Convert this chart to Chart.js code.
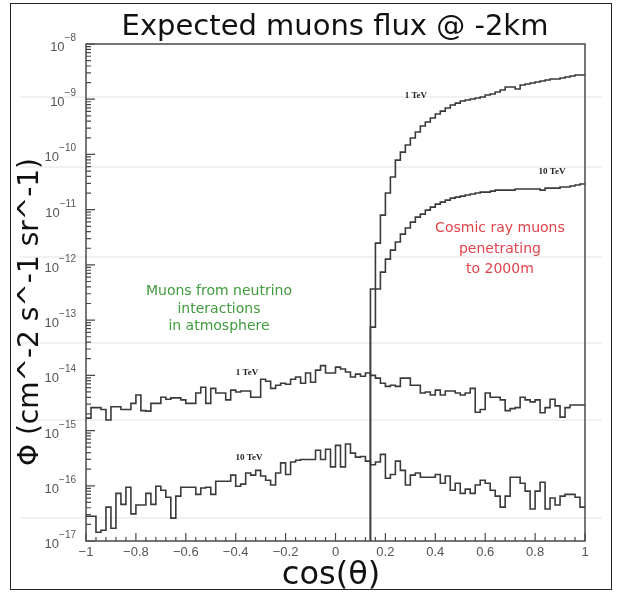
<!DOCTYPE html>
<html>
<head>
<meta charset="utf-8">
<script src="https://cdn.jsdelivr.net/npm/chart.js@4.4.1/dist/chart.umd.min.js"></script>
<style>
html, body { margin: 0; padding: 0; background: #fff; }
#wrap { position: relative; width: 621px; height: 594px; }
#frame { position: absolute; left: 10px; top: 3px; width: 600px; height: 585px; border: 1.5px solid #222; pointer-events: none; }
</style>
</head>
<body>
<div id="wrap">
  <canvas id="chart" width="621" height="594"></canvas>
  <div id="frame"></div>
</div>
<script>
// histogram binning (cos theta)
const binWidth = 0.02;
const nuStart = -1;
const cosmicStart = 0.14;

// muons from neutrino interactions in atmosphere, 100 bins from -1 to 1
const nu1TeV = [
  1.68e-15, 2.6e-15, 2.6e-15, 2.4e-15, 1.55e-15, 2.7e-15, 2.7e-15, 2.4e-15, 2.4e-15, 3.1e-15,
  4.4e-15, 2.3e-15, 2.25e-15, 3.1e-15, 3.1e-15, 4.0e-15, 3.7e-15, 3.9e-15, 3.9e-15, 3.6e-15,
  3.1e-15, 3.1e-15, 4.8e-15, 6.1e-15, 3.1e-15, 5.8e-15, 4.8e-15, 4.8e-15, 3.6e-15, 5.4e-15,
  5.0e-15, 5.2e-15, 5.2e-15, 4.0e-15, 4.0e-15, 8.5e-15, 7.8e-15, 5.8e-15, 6.6e-15, 7.2e-15,
  6.9e-15, 8.5e-15, 9.3e-15, 7.2e-15, 1.1e-14, 7.5e-15, 1.24e-14, 1.5e-14, 1.1e-14, 1.1e-14,
  1.41e-14, 1.3e-14, 1.15e-14, 9.3e-15, 1.05e-14, 9.6e-15, 1.1e-14, 1.0e-14, 8.9e-15, 7.2e-15,
  6.3e-15, 6.6e-15, 6.3e-15, 8.9e-15, 8.9e-15, 6.6e-15, 6.6e-15, 4.8e-15, 5.0e-15, 4.4e-15,
  5.4e-15, 4.4e-15, 5.2e-15, 5.2e-15, 4.8e-15, 4.4e-15, 4.8e-15, 5.8e-15, 2.15e-15, 2.4e-15,
  4.8e-15, 4.0e-15, 4.0e-15, 3.6e-15, 2.3e-15, 2.5e-15, 2.6e-15, 4.0e-15, 3.6e-15, 3.3e-15,
  3.6e-15, 2.1e-15, 2.6e-15, 3.7e-15, 2.8e-15, 1.75e-15, 2.6e-15, 2.9e-15, 2.9e-15, 2.9e-15
];
const nu10TeV = [
  2.8e-17, 2.8e-17, 1.44e-17, 1.57e-17, 4.1e-17, 1.7e-17, 7.3e-17, 4.6e-17, 9.4e-17, 3.1e-17,
  4.5e-17, 4.5e-17, 7.3e-17, 4.6e-17, 9.8e-17, 8.3e-17, 6.2e-17, 2.6e-17, 6.5e-17, 9.4e-17,
  9.4e-17, 9.4e-17, 7.0e-17, 9.1e-17, 9.4e-17, 7.0e-17, 1.21e-16, 1.21e-16, 1.21e-16, 1.56e-16,
  9.8e-17, 1.07e-16, 1.7e-16, 1.56e-16, 1.9e-16, 1.5e-16, 1.26e-16, 1.03e-16, 1.7e-16, 2.6e-16,
  1.6e-16, 2.7e-16, 2.9e-16, 3.0e-16, 3.0e-16, 3.0e-16, 4.4e-16, 3.0e-16, 4.6e-16, 2.2e-16,
  5.4e-16, 2.2e-16, 5.7e-16, 3.9e-16, 3.3e-16, 3.4e-16, 2.8e-16, 2.4e-16, 2.7e-16, 3.7e-16,
  1.37e-16, 1.6e-16, 2.8e-16, 1.9e-16, 1.03e-16, 1.56e-16, 1.7e-16, 1.43e-16, 1.43e-16, 1.43e-16,
  1.6e-16, 1.11e-16, 1.5e-16, 8.3e-17, 1.11e-16, 7.3e-17, 8.7e-17, 7.3e-17, 1.03e-16, 1.26e-16,
  1.11e-16, 8.3e-17, 6.5e-17, 4.1e-17, 6.5e-17, 1.43e-16, 1.43e-16, 1.11e-16, 8.0e-17, 3.8e-17,
  8.0e-17, 1.16e-16, 3.8e-17, 6.0e-17, 4.5e-17, 6.5e-17, 7.0e-17, 7.0e-17, 6.2e-17, 4.1e-17
];

// cosmic ray muons penetrating to 2000 m, 43 bins from 0.14 to 1
const cosmic1TeV = [
  3.65e-13, 2.48e-12, 7.98e-12, 2.0e-11, 3.9e-11, 7.9e-11, 1.1e-10, 1.48e-10, 1.98e-10, 2.55e-10,
  3.27e-10, 3.86e-10, 4.56e-10, 5.4e-10, 6.1e-10, 6.93e-10, 7.85e-10, 8.5e-10, 9.27e-10, 9.68e-10,
  1.01e-9, 1.05e-9, 1.1e-9, 1.19e-9, 1.24e-9, 1.35e-9, 1.47e-9, 1.66e-9, 1.66e-9, 1.53e-9,
  1.81e-9, 1.89e-9, 1.97e-9, 2.05e-9, 2.14e-9, 2.23e-9, 2.32e-9, 2.32e-9, 2.42e-9, 2.52e-9,
  2.63e-9, 2.74e-9, 2.74e-9
];
const cosmic10TeV = [
  7.46e-14, 3.65e-13, 7.4e-13, 1.27e-12, 1.85e-12, 2.59e-12, 3.6e-12, 4.65e-12, 5.96e-12, 7.34e-12,
  8.3e-12, 9.8e-12, 1.11e-11, 1.26e-11, 1.37e-11, 1.49e-11, 1.62e-11, 1.69e-11, 1.76e-11, 1.84e-11,
  1.92e-11, 2.0e-11, 2.08e-11, 2.08e-11, 2.17e-11, 2.26e-11, 2.26e-11, 2.26e-11, 2.26e-11, 2.36e-11,
  2.36e-11, 2.36e-11, 2.36e-11, 2.36e-11, 2.26e-11, 2.46e-11, 2.46e-11, 2.46e-11, 2.57e-11, 2.57e-11,
  2.68e-11, 2.79e-11, 2.91e-11
];

// axes
const xTickValues = [-1, -0.8, -0.6, -0.4, -0.2, 0, 0.2, 0.4, 0.6, 0.8, 1];
const xTickLabels = ['\u22121', '\u22120.8', '\u22120.6', '\u22120.4', '\u22120.2', '0', '0.2', '0.4', '0.6', '0.8', '1'];
const yTickValues = [1e-17, 1e-16, 1e-15, 1e-14, 1e-13, 1e-12, 1e-11, 1e-10, 1e-9, 1e-8];
const yTickExponents = ['\u221217', '\u221216', '\u221215', '\u221214', '\u221213', '\u221212', '\u221211', '\u221210', '\u22129', '\u22128'];

// text labels placed in data coordinates
const curveLabels = [
  { text: '1 TeV', x: 0.322, y: 1.14e-9 },
  { text: '10 TeV', x: 0.868, y: 4.8e-11 },
  { text: '1 TeV', x: -0.355, y: 1.14e-14 },
  { text: '10 TeV', x: -0.347, y: 3.2e-16 }
];
const cosmicNote = { lines: ['Cosmic ray muons', 'penetrating', 'to 2000m'], x: 0.659, y: 1.93e-12, color: '#e2434c' };
const nuNote = { lines: ['Muons from neutrino', 'interactions', 'in atmosphere'], x: -0.467, y: 1.58e-13, color: '#3f9b3c' };

const titleText = 'Expected muons flux @ -2km';
const yTitle = '\u03A6 (cm^-2 s^-1 sr^-1)';
const xTitle = 'cos(\u03B8)';

// faint lines of the slide behind the plot (canvas px)
const slideLines = [97, 167, 257, 343, 420, 518];

function histPoints(start, values, fromZero) {
  const pts = [];
  if (fromZero) pts.push({ x: start, y: 1e-30 });
  values.forEach((v, i) => pts.push({ x: +(start + i * binWidth).toFixed(4), y: v }));
  pts.push({ x: +(start + values.length * binWidth).toFixed(4), y: values[values.length - 1] });
  return pts;
}

function histDataset(label, pts) {
  return {
    label: label,
    data: pts,
    stepped: true,
    borderColor: '#3a3a3a',
    borderWidth: 1.6,
    pointRadius: 0,
    fill: false
  };
}

const decor = {
  id: 'decor',
  beforeDraw(chart) {
    const ctx = chart.ctx;
    ctx.save();
    ctx.fillStyle = '#fff';
    ctx.fillRect(0, 0, chart.width, chart.height);
    ctx.strokeStyle = '#ececec';
    ctx.lineWidth = 1.5;
    for (const y of slideLines) {
      ctx.beginPath();
      ctx.moveTo(20, y);
      ctx.lineTo(602, y);
      ctx.stroke();
    }
    ctx.restore();
  },
  afterDraw(chart) {
    const ctx = chart.ctx;
    const area = chart.chartArea;
    const xs = chart.scales.x;
    const ys = chart.scales.y;
    ctx.save();

    // frame
    ctx.strokeStyle = '#4a4a4a';
    ctx.lineWidth = 1.5;
    ctx.strokeRect(area.left, area.top, area.right - area.left, area.bottom - area.top);

    // x ticks inside
    ctx.lineWidth = 1.2;
    ctx.beginPath();
    for (let i = 0; i <= 50; i++) {
      const v = -1 + i * 0.04;
      const major = xTickValues.some(t => Math.abs(t - v) < 1e-6);
      const px = xs.getPixelForValue(v);
      ctx.moveTo(px, area.bottom);
      ctx.lineTo(px, area.bottom - (major ? 8 : 4));
    }
    // y ticks inside
    for (let e = -17; e <= -8; e++) {
      for (let m = 1; m <= 9; m++) {
        if (e === -8 && m > 1) break;
        const py = ys.getPixelForValue(m * Math.pow(10, e));
        ctx.moveTo(area.left, py);
        ctx.lineTo(area.left + (m === 1 ? 9 : 5), py);
      }
    }
    ctx.stroke();

    // y tick labels 10^n
    ctx.fillStyle = '#555';
    ctx.textBaseline = 'alphabetic';
    yTickValues.forEach((v, i) => {
      const py = ys.getPixelForValue(v);
      ctx.font = '10px "Liberation Sans", Arial, sans-serif';
      const ew = ctx.measureText(yTickExponents[i]).width;
      ctx.textAlign = 'left';
      ctx.fillText(yTickExponents[i], 76 - ew, py - 3);
      ctx.font = '13px "Liberation Sans", Arial, sans-serif';
      ctx.textAlign = 'right';
      ctx.fillText('10', 76 - ew, py + 7);
    });

    // curve labels
    ctx.fillStyle = '#222';
    ctx.font = 'bold 9px "Liberation Serif", "Times New Roman", serif';
    ctx.textAlign = 'center';
    ctx.textBaseline = 'middle';
    for (const l of curveLabels) {
      ctx.fillText(l.text, xs.getPixelForValue(l.x), ys.getPixelForValue(l.y));
    }

    // notes
    ctx.font = '14px "DejaVu Sans", Verdana, sans-serif';
    for (const [note, gap] of [[cosmicNote, 20.5], [nuNote, 17.5]]) {
      ctx.fillStyle = note.color;
      const cx = xs.getPixelForValue(note.x);
      const cy = ys.getPixelForValue(note.y);
      note.lines.forEach((t, i) => ctx.fillText(t, cx, cy + (i - 1) * gap));
    }

    // titles
    ctx.fillStyle = '#111';
    ctx.font = '29px "DejaVu Sans", Verdana, sans-serif';
    ctx.fillText(titleText, 335, 27);
    ctx.font = '32px "DejaVu Sans", Verdana, sans-serif';
    ctx.fillText(xTitle, 331, 576);
    ctx.translate(31, 312);
    ctx.rotate(-Math.PI / 2);
    ctx.font = '28px "DejaVu Sans", Verdana, sans-serif';
    ctx.fillText(yTitle, 0, 0);
    ctx.restore();
  }
};

new Chart(document.getElementById('chart'), {
  type: 'line',
  data: {
    datasets: [
      histDataset('nu 1 TeV', histPoints(nuStart, nu1TeV, false)),
      histDataset('nu 10 TeV', histPoints(nuStart, nu10TeV, false)),
      histDataset('cosmic 1 TeV', histPoints(cosmicStart, cosmic1TeV, true)),
      histDataset('cosmic 10 TeV', histPoints(cosmicStart, cosmic10TeV, true))
    ]
  },
  options: {
    responsive: false,
    animation: false,
    devicePixelRatio: 1,
    layout: { padding: { top: 44, right: 36, left: 0, bottom: 0 } },
    plugins: {
      legend: { display: false },
      tooltip: { enabled: false }
    },
    scales: {
      x: {
        type: 'linear',
        min: -1,
        max: 1,
        afterBuildTicks(s) { s.ticks = xTickValues.map(v => ({ value: v })); },
        afterFit(s) { s.height = 53; s.paddingLeft = 0; s.paddingRight = 0; },
        ticks: {
          callback: (v, i) => xTickLabels[i],
          autoSkip: false,
          maxRotation: 0,
          padding: 4,
          color: '#555',
          font: { family: '"Liberation Sans", Arial, sans-serif', size: 13 }
        },
        grid: { display: false, drawTicks: false },
        border: { display: false }
      },
      y: {
        type: 'logarithmic',
        min: 1e-17,
        max: 1e-8,
        afterFit(s) { s.width = 86; s.paddingTop = 0; s.paddingBottom = 0; },
        ticks: { display: false },
        grid: { display: false, drawTicks: false },
        border: { display: false }
      }
    }
  },
  plugins: [decor]
});
</script>
</body>
</html>
